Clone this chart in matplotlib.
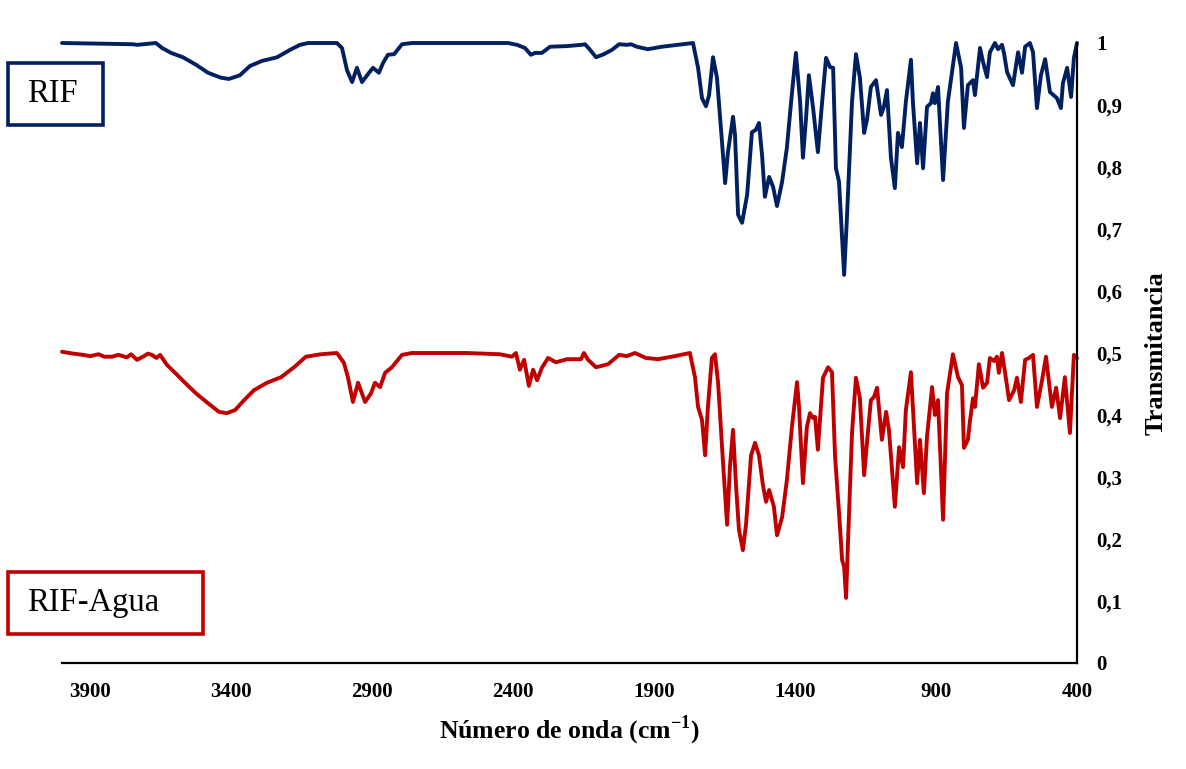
import matplotlib
matplotlib.use('Agg')
import matplotlib.pyplot as plt
from matplotlib.patches import Rectangle

plt.rcParams['font.family'] = ['Liberation Serif', 'DejaVu Serif']
plt.rcParams['mathtext.fontset'] = 'custom'
plt.rcParams['mathtext.rm'] = 'Liberation Serif:bold'
plt.rcParams['mathtext.bf'] = 'Liberation Serif:bold'

BLUE = '#002060'
RED = '#C00000'

# RIF spectrum (wavenumber cm-1, transmittance)
wn_rif = [4000, 3748, 3734, 3667, 3645, 3613, 3571, 3525, 3482, 3436, 3408, 3369,
          3333, 3291, 3237, 3191, 3156, 3127, 3025, 3007, 2989, 2971, 2954, 2936,
          2911, 2897, 2876, 2861, 2844, 2822, 2794, 2759, 2418, 2386, 2358, 2337,
          2322, 2298, 2269, 2209, 2159, 2145, 2127, 2106, 2078, 2049, 2024, 1996,
          1982, 1961, 1922, 1872, 1797, 1762, 1744, 1730, 1716, 1705, 1691, 1677,
          1659, 1648, 1638, 1620, 1613, 1602, 1588, 1570, 1553, 1539, 1528, 1517,
          1507, 1492, 1478, 1464, 1446, 1429, 1414, 1397, 1382, 1372, 1361, 1351,
          1336, 1319, 1304, 1290, 1276, 1265, 1255, 1244, 1226, 1216, 1198, 1184,
          1170, 1155, 1145, 1131, 1113, 1095, 1085, 1074, 1060, 1046, 1035, 1021,
          1007, 989, 982, 967, 957, 946, 932, 918, 911, 904, 893, 875, 858, 829,
          811, 801, 787, 769, 762, 744, 733, 719, 709, 691, 680, 666, 659, 648,
          627, 609, 595, 584, 567, 556, 542, 528, 513, 496, 471, 457, 450, 435,
          421, 411, 400]
t_rif = [1.000, 0.998, 0.997, 1.000, 0.992, 0.984, 0.977, 0.965, 0.952, 0.944, 0.942, 0.948,
         0.963, 0.971, 0.977, 0.989, 0.997, 1.000, 1.000, 0.992, 0.956, 0.937, 0.960, 0.937,
         0.952, 0.960, 0.952, 0.968, 0.981, 0.982, 0.998, 1.000, 1.000, 0.997, 0.992, 0.981,
         0.984, 0.984, 0.994, 0.995, 0.997, 0.998, 0.989, 0.977, 0.982, 0.989, 0.998, 0.997,
         0.998, 0.994, 0.990, 0.994, 0.998, 1.000, 0.960, 0.911, 0.898, 0.916, 0.977, 0.944,
         0.840, 0.774, 0.824, 0.881, 0.852, 0.723, 0.710, 0.755, 0.856, 0.860, 0.871, 0.819,
         0.752, 0.784, 0.768, 0.737, 0.776, 0.831, 0.905, 0.984, 0.905, 0.815, 0.879, 0.948,
         0.895, 0.824, 0.905, 0.976, 0.961, 0.960, 0.798, 0.776, 0.626, 0.718, 0.905, 0.982,
         0.944, 0.855, 0.876, 0.929, 0.940, 0.884, 0.897, 0.924, 0.815, 0.766, 0.855, 0.832,
         0.905, 0.973, 0.905, 0.806, 0.871, 0.798, 0.897, 0.903, 0.919, 0.903, 0.929, 0.779,
         0.905, 1.000, 0.960, 0.863, 0.932, 0.940, 0.916, 0.992, 0.969, 0.945, 0.985, 1.000,
         0.990, 0.997, 0.984, 0.953, 0.932, 0.985, 0.952, 0.994, 1.000, 0.985, 0.895, 0.948,
         0.974, 0.921, 0.911, 0.895, 0.935, 0.960, 0.913, 0.976, 1.000]

# RIF-Agua spectrum
wn_agua = [4000, 3960, 3926, 3900, 3870, 3850, 3823, 3800, 3770, 3755, 3734, 3709,
           3695, 3681, 3665, 3652, 3628, 3599, 3564, 3525, 3482, 3443, 3415, 3386,
           3354, 3319, 3273, 3223, 3177, 3135, 3081, 3025, 3000, 2986, 2968, 2950,
           2925, 2904, 2890, 2872, 2854, 2830, 2794, 2759, 2564, 2447, 2404, 2390,
           2376, 2361, 2344, 2329, 2315, 2298, 2276, 2248, 2209, 2159, 2149, 2134,
           2106, 2063, 2024, 1996, 1968, 1929, 1886, 1826, 1773, 1755, 1744, 1730,
           1719, 1709, 1695, 1684, 1673, 1656, 1641, 1631, 1620, 1609, 1599, 1585,
           1574, 1556, 1542, 1528, 1514, 1503, 1492, 1475, 1464, 1446, 1429, 1411,
           1393, 1386, 1372, 1358, 1347, 1336, 1329, 1319, 1301, 1283, 1269, 1258,
           1244, 1233, 1226, 1219, 1212, 1198, 1184, 1170, 1155, 1145, 1131, 1120,
           1109, 1092, 1077, 1067, 1056, 1046, 1031, 1017, 1007, 989, 982, 967,
           957, 943, 932, 914, 904, 893, 875, 861, 840, 822, 808, 801, 787, 780,
           769, 762, 748, 733, 719, 709, 694, 684, 677, 666, 655, 641, 623, 613,
           599, 584, 570, 556, 542, 524, 510, 489, 474, 460, 443, 425, 411, 400]
t_agua = [0.502, 0.499, 0.497, 0.495, 0.498, 0.494, 0.494, 0.497, 0.493, 0.498, 0.489, 0.495,
          0.499, 0.497, 0.492, 0.497, 0.481, 0.468, 0.452, 0.435, 0.419, 0.405, 0.403, 0.408,
          0.424, 0.440, 0.452, 0.461, 0.477, 0.494, 0.498, 0.500, 0.484, 0.461, 0.421, 0.452,
          0.421, 0.435, 0.452, 0.445, 0.468, 0.477, 0.497, 0.500, 0.500, 0.498, 0.494, 0.500,
          0.473, 0.489, 0.447, 0.473, 0.456, 0.476, 0.492, 0.485, 0.490, 0.490, 0.500, 0.489,
          0.477, 0.482, 0.497, 0.495, 0.500, 0.492, 0.490, 0.495, 0.500, 0.461, 0.413, 0.392,
          0.335, 0.413, 0.492, 0.498, 0.452, 0.327, 0.223, 0.316, 0.376, 0.284, 0.215, 0.182,
          0.223, 0.335, 0.355, 0.335, 0.287, 0.260, 0.279, 0.252, 0.206, 0.235, 0.295, 0.381,
          0.453, 0.413, 0.290, 0.381, 0.403, 0.395, 0.397, 0.344, 0.460, 0.477, 0.469, 0.332,
          0.242, 0.166, 0.155, 0.105, 0.198, 0.371, 0.460, 0.427, 0.303, 0.355, 0.424, 0.429,
          0.444, 0.360, 0.405, 0.376, 0.311, 0.252, 0.348, 0.316, 0.408, 0.469, 0.413, 0.290,
          0.360, 0.274, 0.365, 0.445, 0.400, 0.424, 0.231, 0.435, 0.498, 0.461, 0.448, 0.347,
          0.360, 0.389, 0.427, 0.413, 0.482, 0.444, 0.452, 0.492, 0.487, 0.494, 0.468, 0.500,
          0.468, 0.424, 0.440, 0.460, 0.421, 0.489, 0.492, 0.497, 0.413, 0.456, 0.494, 0.413,
          0.444, 0.395, 0.461, 0.371, 0.497, 0.492]

x_ticks = [3900, 3400, 2900, 2400, 1900, 1400, 900, 400]
y_ticks = [0, 0.1, 0.2, 0.3, 0.4, 0.5, 0.6, 0.7, 0.8, 0.9, 1]
y_labels = ['0', '0,1', '0,2', '0,3', '0,4', '0,5', '0,6', '0,7', '0,8', '0,9', '1']

fig = plt.figure(figsize=(11.86, 7.69), dpi=100)
ax = fig.add_axes([62 / 1186, 1 - 663 / 769, 1015 / 1186, 620 / 769])

ax.plot(wn_rif, t_rif, color=BLUE, lw=2.8, solid_joinstyle='round',
        solid_capstyle='round', clip_on=False)
ax.plot(wn_agua, t_agua, color=RED, lw=2.8, solid_joinstyle='round',
        solid_capstyle='round', clip_on=False)

ax.set_xlim(4000, 400)
ax.set_ylim(0, 1)
ax.set_xticks(x_ticks)
ax.set_xticklabels([str(v) for v in x_ticks], fontweight='bold', fontsize=15)
ax.yaxis.tick_right()
ax.yaxis.set_label_position('right')
ax.set_yticks(y_ticks)
ax.set_yticklabels(y_labels, fontweight='bold', fontsize=15)
ax.tick_params(axis='both', length=0)
ax.tick_params(axis='x', pad=14)
ax.tick_params(axis='y', pad=14)

for side in ['top', 'left']:
    ax.spines[side].set_visible(False)
ax.spines['bottom'].set_linewidth(1.6)
ax.spines['right'].set_linewidth(1.6)

ax.set_xlabel('Número de onda (cm$^{-1}$)', fontweight='bold', fontsize=18.5, labelpad=8)
ax.set_ylabel('Transmitancia', fontweight='bold', fontsize=19, labelpad=16)

# label boxes
fig.patches.append(Rectangle((8 / 1186, 1 - 125 / 769), 95 / 1186, 62 / 769,
                             transform=fig.transFigure, fill=False, edgecolor=BLUE, lw=2.6))
fig.text(27 / 1186, 1 - 94 / 769, 'RIF', fontsize=23.5, va='center', ha='left')
fig.patches.append(Rectangle((8 / 1186, 1 - 634 / 769), 195 / 1186, 62 / 769,
                             transform=fig.transFigure, fill=False, edgecolor=RED, lw=2.6))
fig.text(27 / 1186, 1 - 603 / 769, 'RIF-Agua', fontsize=23.5, va='center', ha='left')

plt.savefig('out.png', dpi=100)
